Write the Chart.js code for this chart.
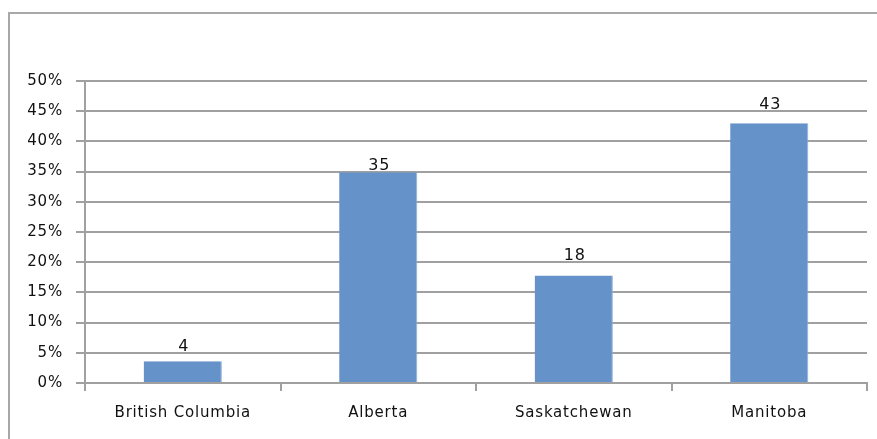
<!DOCTYPE html>
<html>
<head>
<meta charset="utf-8">
<script src="https://cdn.jsdelivr.net/npm/chart.js@4/dist/chart.umd.min.js"></script>
<style>
  html, body { margin: 0; padding: 0; background: #fff; }
  #wrap { width: 877px; height: 439px; position: relative; }
</style>
</head>
<body>
<div id="wrap"><canvas id="c" width="877" height="439"></canvas></div>
<script>
const categories = ["British Columbia", "Alberta", "Saskatchewan", "Manitoba"];
const values = [3.6, 34.9, 17.8, 43];
const valueLabels = ["4", "35", "18", "43"];
const yTicks = [0, 5, 10, 15, 20, 25, 30, 35, 40, 45, 50];

const GRID = '#a0a0a0';
const BAR = '#6592c8';
const FONT = 'DejaVu Sans';

const frame = {
  id: 'frame',
  beforeDraw(chart) {
    const ctx = chart.ctx;
    ctx.letterSpacing = '0.8px';
    ctx.save();
    ctx.fillStyle = '#fff';
    ctx.fillRect(0, 0, chart.width, chart.height);
    ctx.strokeStyle = '#a8a8a8';
    ctx.lineWidth = 2;
    ctx.strokeRect(9, 13, 1000, 1000);
    ctx.restore();
  }
};

const labelsPlugin = {
  id: 'valueLabels',
  afterDatasetsDraw(chart) {
    const ctx = chart.ctx;
    const meta = chart.getDatasetMeta(0);
    const y = chart.scales.y;
    ctx.save();
    ctx.font = '16px "' + FONT + '"';
    ctx.fillStyle = '#111';
    ctx.textAlign = 'center';
    ctx.textBaseline = 'alphabetic';
    meta.data.forEach((bar, i) => {
      const anchor = Math.ceil(values[i] / 5) * 5;
      const py = y.getPixelForValue(anchor) - 2;
      ctx.fillText(valueLabels[i], bar.x + 1, py);
    });
    ctx.restore();
  }
};

new Chart(document.getElementById('c'), {
  type: 'bar',
  data: {
    labels: categories,
    datasets: [{
      data: values,
      backgroundColor: BAR,
      borderColor: '#8fb0da',
      borderWidth: { left: 0, right: 1, top: 0, bottom: 0 },
      categoryPercentage: 0.4,
      barPercentage: 1.0
    }]
  },
  options: {
    responsive: false,
    animation: false,
    layout: { padding: { top: 81, right: 10, left: 0, bottom: 0 } },
    plugins: { legend: { display: false }, tooltip: { enabled: false } },
    scales: {
      x: {
        offset: true,
        grid: {
          display: true,
          offset: true,
          drawOnChartArea: false,
          drawTicks: true,
          tickLength: 8,
          color: GRID,
          lineWidth: 2
        },
        border: { display: true, color: GRID, width: 2 },
        ticks: {
          padding: 13,
          color: '#111',
          font: { family: FONT, size: 15 },
          maxRotation: 0
        },
        afterFit(scale) { scale.height = 56; }
      },
      y: {
        min: 0,
        max: 50,
        afterBuildTicks(scale) { scale.ticks = yTicks.map(v => ({ value: v })); },
        grid: {
          color: GRID,
          lineWidth: 2,
          drawTicks: true,
          tickLength: 9
        },
        border: { display: true, color: GRID, width: 2 },
        ticks: {
          padding: 13,
          color: '#111',
          font: { family: FONT, size: 15 },
          callback: v => v + '%'
        },
        afterFit(scale) { scale.width = 85; }
      }
    }
  },
  plugins: [frame, labelsPlugin]
});
</script>
</body>
</html>
